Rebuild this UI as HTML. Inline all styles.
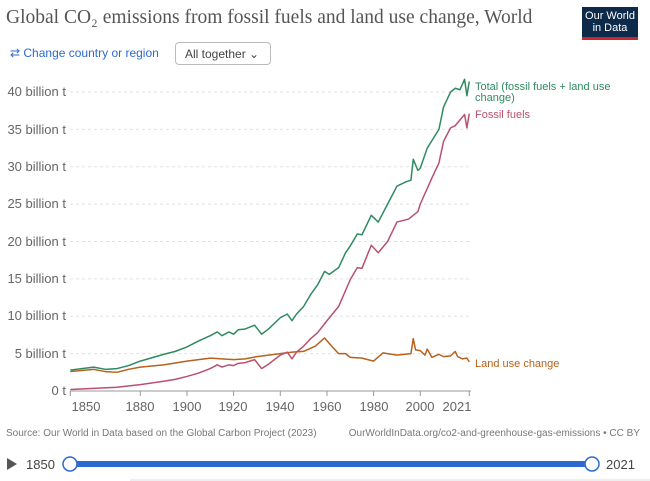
<!DOCTYPE html>
<html><head><meta charset="utf-8"><style>
body{margin:0;width:650px;height:481px;background:#fff;font-family:"Liberation Sans",sans-serif;overflow:hidden;position:relative}
.t{position:absolute;white-space:nowrap}
</style></head><body>
<div class="t" style="left:6px;top:7px;font-family:'Liberation Serif',serif;font-size:19.5px;color:#555">Global CO₂ emissions from fossil fuels and land use change, World</div>
<div class="t" style="left:582px;top:7px;width:56px;height:33px;background:#0e2a4b;border-bottom:3px solid #c8252c;color:#fff;font-size:11px;line-height:12px;text-align:center;padding-top:3px;box-sizing:border-box">Our World<br>in Data</div>
<div class="t" style="left:10px;top:46px;font-size:12px;color:#2d6ad0">⇄ Change country or region</div>
<div class="t" style="left:175px;top:42px;width:96px;height:23px;border:1px solid #bbb;border-radius:4px;box-sizing:border-box;font-size:12px;color:#444;padding:4px 0 0 9px">All together ⌄</div>
<svg style="position:absolute;left:0;top:0" width="650" height="481">
<g stroke="#e2e2e2" stroke-dasharray="3,3">
<line x1="70" x2="471" y1="92" y2="92"/><line x1="70" x2="471" y1="129.4" y2="129.4"/><line x1="70" x2="471" y1="166.8" y2="166.8"/><line x1="70" x2="471" y1="204.1" y2="204.1"/><line x1="70" x2="471" y1="241.5" y2="241.5"/><line x1="70" x2="471" y1="278.9" y2="278.9"/><line x1="70" x2="471" y1="316.3" y2="316.3"/><line x1="70" x2="471" y1="353.6" y2="353.6"/>
</g>
<line x1="70" x2="471" y1="391" y2="391" stroke="#999"/>
<g stroke="#999"><line x1="70.3" x2="70.3" y1="391" y2="396"/><line x1="140.3" x2="140.3" y1="391" y2="396"/><line x1="187" x2="187" y1="391" y2="396"/><line x1="233.6" x2="233.6" y1="391" y2="396"/><line x1="280.3" x2="280.3" y1="391" y2="396"/><line x1="327" x2="327" y1="391" y2="396"/><line x1="373.6" x2="373.6" y1="391" y2="396"/><line x1="420.3" x2="420.3" y1="391" y2="396"/><line x1="469.3" x2="469.3" y1="391" y2="396"/></g>
<g font-size="13" fill="#666" text-anchor="end">
<text x="66" y="96">40 billion t</text><text x="66" y="134">35 billion t</text><text x="66" y="171">30 billion t</text><text x="66" y="208">25 billion t</text><text x="66" y="246">20 billion t</text><text x="66" y="283">15 billion t</text><text x="66" y="320">10 billion t</text><text x="66" y="358">5 billion t</text><text x="66" y="395">0 t</text>
</g>
<g font-size="13" fill="#666" text-anchor="middle">
<text x="86" y="411">1850</text><text x="140" y="411">1880</text><text x="187" y="411">1900</text><text x="233" y="411">1920</text><text x="280" y="411">1940</text><text x="327" y="411">1960</text><text x="374" y="411">1980</text><text x="420" y="411">2000</text><text x="457" y="411">2021</text>
</g>
<g transform="translate(70.3,391) scale(2.333,-7.475)" fill="none" stroke-width="1.5" stroke-linejoin="round">
<polyline vector-effect="non-scaling-stroke" stroke="#b5621e" points="0,2.6 10,2.9 15,2.6 20,2.5 25,2.9 30,3.2 40,3.5 50,4.0 60,4.4 70,4.2 75,4.3 80,4.6 90,5.0 95,5.2 100,5.3 105,6.0 109,7.1 112,6.0 115,5.0 118,5.0 120,4.5 125,4.4 130,4.0 134,5.1 140,4.8 146,5.0 147,7.0 148,5.5 150,5.4 152,4.8 153,5.6 155,4.5 158,4.9 160,4.6 163,4.7 165,5.3 166,4.6 168,4.3 170,4.4 171,3.9"/>
<polyline vector-effect="non-scaling-stroke" stroke="#b9506e" points="0,0.2 10,0.35 20,0.5 30,0.85 40,1.3 45,1.55 50,1.95 55,2.4 60,3.0 63,3.5 65,3.2 68,3.5 70,3.4 72,3.7 75,3.8 79,4.2 82,3.0 85,3.6 90,4.8 93,5.2 95,4.3 97,5.2 100,6.0 103,7.0 106,7.8 110,9.4 115,11.3 120,14.9 123,16.5 125,16.4 129,19.5 132,18.5 136,20.0 140,22.6 145,23.0 149,24.0 150,25.0 155,28.5 158,30.5 160,33.4 163,35.2 165,35.5 169,37.0 170,35.2 171,37.1"/>
<polyline vector-effect="non-scaling-stroke" stroke="#2e8b60" points="0,2.8 10,3.2 15,2.9 20,3.0 25,3.4 30,4.0 40,4.9 45,5.3 50,5.9 55,6.7 60,7.4 63,7.9 65,7.4 68,7.9 70,7.6 72,8.2 75,8.3 79,8.8 82,7.6 85,8.3 90,9.8 93,10.3 95,9.4 97,10.3 100,11.3 103,12.9 106,14.2 109,16.0 111,15.6 115,16.5 118,18.5 120,19.4 123,21.0 125,20.9 129,23.5 132,22.6 136,25.0 140,27.4 144,28.0 146,28.2 147,31.0 149,29.5 150,29.8 153,32.5 155,33.5 158,35.0 160,38.0 163,40.0 165,40.5 167,40.3 169,41.7 170,39.5 171,41.4"/>
</g>
<text x="475" y="90" font-size="11" fill="#2e8b60">Total (fossil fuels + land use</text>
<text x="475" y="101" font-size="11" fill="#2e8b60">change)</text>
<text x="475" y="118" font-size="11" fill="#b9506e">Fossil fuels</text>
<text x="475" y="367" font-size="11" fill="#b5621e">Land use change</text>
<text x="6" y="436" font-size="10" fill="#777">Source: Our World in Data based on the Global Carbon Project (2023)</text>
<text x="640" y="436" font-size="10" fill="#777" text-anchor="end">OurWorldInData.org/co2-and-greenhouse-gas-emissions • CC BY</text>
<polygon points="7,458 17,464 7,470" fill="#555"/>
<text x="26" y="469" font-size="13" fill="#444">1850</text>
<line x1="70" x2="592" y1="464" y2="464" stroke="#2d6ad0" stroke-width="6"/>
<circle cx="70" cy="464" r="7" fill="#fff" stroke="#2d6ad0" stroke-width="1.5"/>
<circle cx="592" cy="464" r="7" fill="#fff" stroke="#2d6ad0" stroke-width="1.5"/>
<text x="606" y="469" font-size="13" fill="#444">2021</text>
<line x1="130" x2="650" y1="480" y2="480" stroke="#ddd"/>
</svg>
</body></html>
